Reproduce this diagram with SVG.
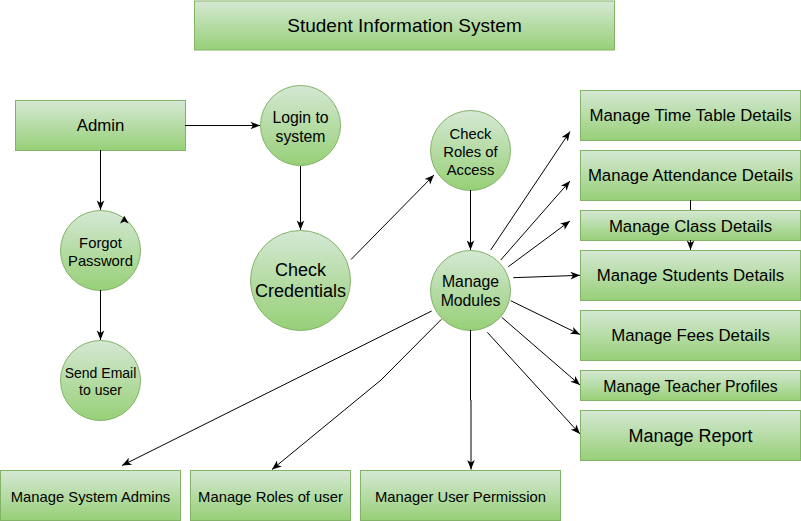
<svg xmlns="http://www.w3.org/2000/svg" width="801" height="521" viewBox="0 0 801 521">
  <defs>
    <linearGradient id="green" x1="0" y1="0" x2="0" y2="1">
      <stop offset="0" stop-color="#d5e8d4"/>
      <stop offset="1" stop-color="#97d077"/>
    </linearGradient>
    <marker id="arrow" viewBox="0 0 10 10" markerUnits="userSpaceOnUse" markerWidth="10" markerHeight="10" refX="10" refY="5" orient="auto">
      <path d="M0.5,1.2 L10,5 L0.5,8.8 L3,5 Z" fill="#000"/>
    </marker>
    <style>
      .box { fill: url(#green); stroke: #82b366; stroke-width: 1; }
      .edge { fill: none; stroke: #000; stroke-width: 1; marker-end: url(#arrow); }
      .plain { fill: none; stroke: #000; stroke-width: 1; }
      text { font-family: "Liberation Sans", Arial, sans-serif; fill: #000; text-anchor: middle; }
      .t19 { font-size: 19px; }
      .t18 { font-size: 18px; }
      .t17 { font-size: 16.8px; }
      .t16 { font-size: 15.8px; }
      .t15 { font-size: 14.8px; }
      .t14 { font-size: 14px; }
    </style>
  </defs>

  <g id="title">
    <rect class="box" x="194.5" y="1" width="420" height="49"/>
    <text class="t19" x="404.5" y="32">Student Information System</text>
  </g>

  <g id="admin">
    <rect class="box" x="15.5" y="100.5" width="170" height="50"/>
    <text class="t17" x="100.5" y="131">Admin</text>
  </g>

  <g id="login">
    <circle class="box" cx="300.5" cy="125.5" r="40"/>
    <text class="t16" x="300.5" y="122.5">Login to</text>
    <text class="t16" x="300.5" y="141.5">system</text>
  </g>

  <g id="forgot-password">
    <circle class="box" cx="100.5" cy="250.5" r="40"/>
    <text class="t15" x="100.5" y="248">Forgot</text>
    <text class="t15" x="100.5" y="266">Password</text>
  </g>

  <g id="send-email">
    <circle class="box" cx="100.5" cy="380.5" r="40"/>
    <text class="t14" x="100.5" y="378.3">Send Email</text>
    <text class="t14" x="100.5" y="395">to user</text>
  </g>

  <g id="check-credentials">
    <circle class="box" cx="300.5" cy="280.5" r="50"/>
    <text class="t18" x="300.5" y="276.3">Check</text>
    <text class="t18" x="300.5" y="297.3">Credentials</text>
  </g>

  <g id="check-roles">
    <circle class="box" cx="470.5" cy="150.5" r="40"/>
    <text class="t15" x="470.5" y="138.5">Check</text>
    <text class="t15" x="470.5" y="156.9">Roles of</text>
    <text class="t15" x="470.5" y="175.2">Access</text>
  </g>

  <g id="manage-modules">
    <circle class="box" cx="470.5" cy="290.5" r="40"/>
    <text class="t16" x="470.5" y="287.2">Manage</text>
    <text class="t16" x="470.5" y="306.2">Modules</text>
  </g>

  <g id="time-table">
    <rect class="box" x="580.5" y="90.5" width="220" height="50"/>
    <text class="t17" x="690.5" y="120.9">Manage Time Table Details</text>
  </g>

  <g id="attendance">
    <rect class="box" x="580.5" y="150.5" width="220" height="50"/>
    <text class="t17" x="690.5" y="180.9">Manage Attendance Details</text>
  </g>

  <g id="class-details">
    <rect class="box" x="580.5" y="210.5" width="220" height="30"/>
    <text class="t17" x="690.5" y="231.6">Manage Class Details</text>
  </g>

  <g id="students">
    <rect class="box" x="580.5" y="250.5" width="220" height="50"/>
    <text class="t17" x="690.5" y="280.9">Manage Students Details</text>
  </g>

  <g id="fees">
    <rect class="box" x="580.5" y="310.5" width="220" height="50"/>
    <text class="t17" x="690.5" y="340.9">Manage Fees Details</text>
  </g>

  <g id="teacher-profiles">
    <rect class="box" x="580.5" y="370.5" width="220" height="30"/>
    <text class="t16" x="690.5" y="391.5">Manage Teacher Profiles</text>
  </g>

  <g id="report">
    <rect class="box" x="580.5" y="410.5" width="220" height="50"/>
    <text class="t18" x="690.5" y="442.3">Manage Report</text>
  </g>

  <g id="system-admins">
    <rect class="box" x="0.5" y="470.5" width="180" height="50"/>
    <text class="t15" x="90.5" y="502">Manage System Admins</text>
  </g>

  <g id="roles-of-user">
    <rect class="box" x="190.5" y="470.5" width="160" height="50"/>
    <text class="t15" x="270.5" y="502">Manage Roles of user</text>
  </g>

  <g id="user-permission">
    <rect class="box" x="360.5" y="470.5" width="200" height="50"/>
    <text class="t15" x="460.5" y="502">Manager User Permission</text>
  </g>

  <!-- connectors, drawn over the nodes -->
  <g id="connectors">
    <line class="edge" x1="185" y1="125.5" x2="260" y2="125.5"/>
    <line class="edge" x1="100.5" y1="150" x2="100.5" y2="210"/>
    <line class="edge" x1="100.5" y1="290" x2="100.5" y2="340"/>
    <path d="M120,223.5 L124.3,215.8 L128.6,223.5 L124.3,221.5 Z" fill="#000"/>
    <line class="edge" x1="300.5" y1="166" x2="300.5" y2="230"/>
    <line class="edge" x1="351" y1="259.5" x2="434" y2="175"/>
    <line class="edge" x1="470.5" y1="190" x2="470.5" y2="250"/>
    <line class="edge" x1="490.7" y1="250" x2="570" y2="131.5"/>
    <line class="edge" x1="500.7" y1="260" x2="570" y2="181"/>
    <line class="edge" x1="508.3" y1="266.7" x2="570" y2="221"/>
    <line class="edge" x1="513.3" y1="277.7" x2="580" y2="275.3"/>
    <line class="edge" x1="510.7" y1="300.7" x2="580" y2="334.5"/>
    <line class="edge" x1="501.7" y1="317.3" x2="580" y2="385"/>
    <line class="edge" x1="487.3" y1="332.3" x2="580" y2="434"/>
    <!-- attendance to students, passing behind the class box -->
    <line class="plain" x1="690.5" y1="200" x2="690.5" y2="210"/>
    <line class="edge" x1="690.5" y1="240" x2="690.5" y2="250"/>
    <line class="edge" x1="431.7" y1="311" x2="122" y2="465.5"/>
    <polyline class="edge" points="441.4,319.3 381,380 272,469.5"/>
    <polyline class="edge" points="470.5,330 470.5,400 471,400 471,469.5"/>
  </g>
</svg>
